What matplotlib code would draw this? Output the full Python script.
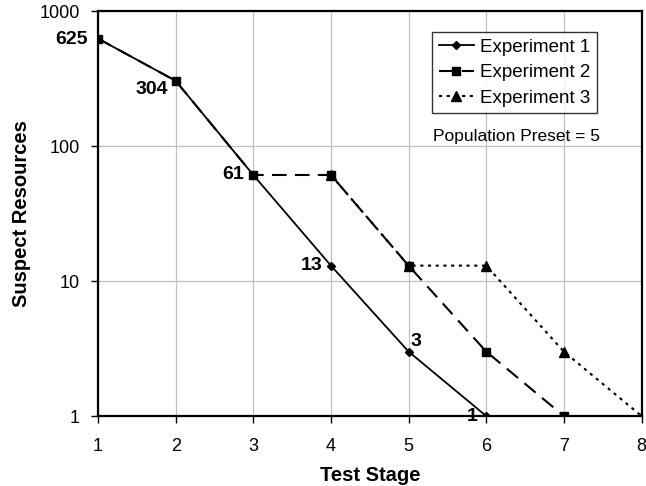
import matplotlib
matplotlib.use("Agg")
import matplotlib.pyplot as plt
from matplotlib.ticker import FixedLocator, NullLocator, FixedFormatter

plt.rcParams['font.family'] = ['Liberation Sans', 'DejaVu Sans']

x1 = [1, 2, 3, 4, 5, 6]
y1 = [625, 304, 61, 13, 3, 1]
x2 = [1, 2, 3, 4, 5, 6, 7]
y2 = [625, 304, 61, 61, 13, 3, 1]
x3 = [4, 5, 6, 7, 8]
y3 = [61, 13, 13, 3, 1]
labels_x = [1, 2, 3, 4, 5, 6]
labels_y = [625, 304, 61, 13, 3, 1]
labels_txt = ["625", "304", "61", "13", "3", "1"]
label_off = [(-26, -1), (-24, -8.5), (-20, 0), (-19, 0), (7, 10), (-14, 0)]

fig = plt.figure(figsize=(6.46, 4.86), dpi=100)
ax = fig.add_axes([98/646, 1-416/486, (641.5-98)/646, (416-11)/486])

ax.plot(x3, y3, color='black', linestyle=(0, (1.5, 2.2)), lw=1.5, marker='^', ms=6.5, label='Experiment 3', zorder=3)
ax.plot(x2, y2, color='black', linestyle=(0, (7, 4)), lw=1.5, marker='s', ms=6.3, label='Experiment 2', zorder=4)
ax.plot(x1, y1, color='black', linestyle='-', lw=1.3, marker='D', ms=4.2, label='Experiment 1', zorder=5)

ax.set_yscale('log')
ax.set_xlim(1, 8)
ax.set_ylim(1, 1000)
ax.yaxis.set_major_locator(FixedLocator([1, 10, 100, 1000]))
ax.yaxis.set_major_formatter(FixedFormatter(['1', '10', '100', '1000']))
ax.yaxis.set_minor_locator(NullLocator())
ax.set_xticks(range(1, 9))
ax.grid(True, color='#c0c0c0', lw=0.9)
ax.set_axisbelow(True)
for s in ax.spines.values():
    s.set_linewidth(1.6)
    s.set_zorder(2.5)
ax.tick_params(direction='out', length=5, width=1.0, labelsize=13)
ax.tick_params(axis='y', pad=8)
ax.tick_params(axis='x', pad=11)

for xv, yv, t, (dx, dy) in zip(labels_x, labels_y, labels_txt, label_off):
    ax.annotate(t, (xv, yv), xytext=(dx, dy), textcoords='offset pixels',
                ha='center', va='center', fontsize=14, fontweight='bold', zorder=1)

ax.set_xlabel('Test Stage', fontsize=14.5, fontweight='bold', labelpad=8)
ax.set_ylabel('Suspect Resources', fontsize=14.5, fontweight='bold', labelpad=6)

h, l = ax.get_legend_handles_labels()
leg = ax.legend(h[::-1], l[::-1], loc='upper left',
                bbox_to_anchor=((432-98)/543.5, 1-(32-11)/405),
                frameon=True, fancybox=False, edgecolor='black', fontsize=13.5,
                handlelength=1.9, borderpad=0.35, labelspacing=0.45, handletextpad=0.3,
                borderaxespad=0)
leg.get_frame().set_linewidth(1.0)
ax.text((433-98)/543.5, 1-(137-11)/405, 'Population Preset = 5', transform=ax.transAxes,
        fontsize=12.5, va='center', ha='left')

fig.savefig('out.png', dpi=100)
